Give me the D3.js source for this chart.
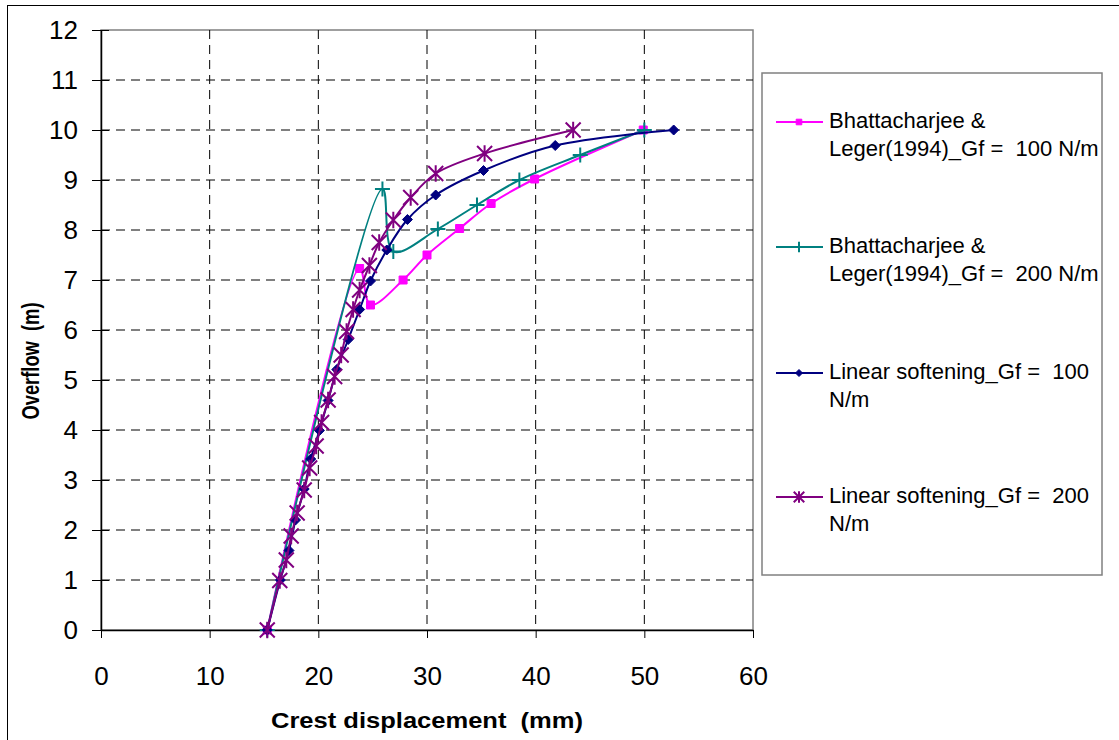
<!DOCTYPE html>
<html>
<head>
<meta charset="utf-8">
<script src="https://cdn.jsdelivr.net/npm/d3@7"></script>
<style>
  body { margin: 0; background: #fff; }
  svg { display: block; font-family: "Liberation Sans", Arial, sans-serif; }
  text { white-space: pre; }
</style>
</head>
<body>
<svg id="chart" width="1119" height="740"></svg>
<script>
// crest displacement (mm) / overflow (m)
const bhat100X = [15.3, 23.8, 24.8, 27.8, 30.0, 33.0, 35.9, 39.9, 49.9];
const bhat100Y = [0, 7.23, 6.5, 7.0, 7.5, 8.03, 8.53, 9.02, 10.0];

const bhat200X = [15.3, 25.9, 26.9, 31.0, 34.6, 38.5, 44.1, 50.0];
const bhat200Y = [0, 8.82, 7.57, 8.02, 8.5, 9.0, 9.5, 10.0];

const lin100X = [15.3, 16.5, 17.3, 17.9, 18.7, 19.3, 20.1, 20.9, 21.7, 22.75, 23.8, 24.8, 26.3, 28.2, 30.8, 35.2, 41.8, 52.7];
const lin100Y = [0, 1.0, 1.59, 2.2, 2.82, 3.42, 3.99, 4.59, 5.21, 5.81, 6.41, 6.98, 7.6, 8.21, 8.7, 9.19, 9.69, 10.0];

const lin200X = [15.3, 16.45, 17.05, 17.5, 18.05, 18.7, 19.2, 19.8, 20.3, 20.9, 21.5, 22.1, 22.6, 23.2, 23.8, 24.7, 25.6, 26.9, 28.5, 30.8, 35.3, 43.45];
const lin200Y = [0, 0.99, 1.4, 1.88, 2.34, 2.8, 3.24, 3.68, 4.15, 4.6, 5.07, 5.5, 5.97, 6.41, 6.8, 7.29, 7.75, 8.2, 8.65, 9.13, 9.53, 10.0];

const seriesNames = [
    ["Bhattacharjee &", "Leger(1994)_Gf =  100 N/m"],
    ["Bhattacharjee &", "Leger(1994)_Gf =  200 N/m"],
    ["Linear softening_Gf =  100", "N/m"],
    ["Linear softening_Gf =  200", "N/m"]
];
const seriesColors = ["#ff00ff", "#008080", "#000080", "#800080"];
const seriesMarkers = ["square", "plus", "diamond", "star"];

const xTicks = [0, 10, 20, 30, 40, 50, 60];
const yTicks = [0, 1, 2, 3, 4, 5, 6, 7, 8, 9, 10, 11, 12];

const xVals = [bhat100X, bhat200X, lin100X, lin200X];
const yVals = [bhat100Y, bhat200Y, lin100Y, lin200Y];

const series = seriesNames.map((name, i) => ({
    name: name,
    color: seriesColors[i],
    marker: seriesMarkers[i],
    points: xVals[i].map((x, j) => ({ x: x, y: yVals[i][j] }))
}));

const svg = d3.select("#chart");

const plotLeft = 101, plotRight = 753, plotTop = 30, plotBottom = 630;
const xScale = d3.scaleLinear().domain([0, 60]).range([plotLeft, plotRight]);
const yScale = d3.scaleLinear().domain([0, 12]).range([plotBottom, plotTop]);

// chart frame, runs off the page right and bottom
svg.append("rect")
    .attr("x", 7.5).attr("y", 5.5)
    .attr("width", 1200).attr("height", 800)
    .attr("fill", "none")
    .attr("stroke", "#000")
    .attr("stroke-width", 1);

// plot area border
svg.append("rect")
    .attr("x", plotLeft).attr("y", plotTop)
    .attr("width", plotRight - plotLeft).attr("height", plotBottom - plotTop)
    .attr("fill", "none")
    .attr("stroke", "#808080")
    .attr("stroke-width", 1.5);

// dashed gridlines
svg.append("g")
    .selectAll("line")
    .data(xTicks.filter(d => d > 0 && d < 60))
    .join("line")
        .attr("x1", d => xScale(d)).attr("x2", d => xScale(d))
        .attr("y1", plotTop).attr("y2", plotBottom)
        .attr("stroke", "#000")
        .attr("stroke-dasharray", "9,6");

svg.append("g")
    .selectAll("line")
    .data(yTicks.filter(d => d > 0 && d < 12))
    .join("line")
        .attr("x1", plotLeft).attr("x2", plotRight)
        .attr("y1", d => yScale(d)).attr("y2", d => yScale(d))
        .attr("stroke", "#000")
        .attr("stroke-dasharray", "9,6");

// y axis: ticks cross the axis line
const yAxis = svg.append("g")
    .attr("transform", `translate(${plotLeft},0)`)
    .call(d3.axisLeft(yScale).tickValues(yTicks).tickSizeInner(9).tickSizeOuter(0).tickPadding(14));
yAxis.selectAll(".tick line").attr("x1", -9).attr("x2", 8).attr("stroke", "#000");
yAxis.select(".domain").attr("stroke", "#000").attr("stroke-width", 1.5);
yAxis.selectAll("text")
    .attr("font-size", 26)
    .attr("font-family", "Liberation Sans, Arial, sans-serif")
    .attr("fill", "#000");

const xAxis = svg.append("g")
    .attr("transform", `translate(0,${plotBottom})`)
    .call(d3.axisBottom(xScale).tickValues(xTicks).tickSizeInner(8).tickSizeOuter(0).tickPadding(29));
xAxis.select(".domain").attr("stroke", "#000").attr("stroke-width", 1.5);
xAxis.selectAll("text")
    .attr("font-size", 26)
    .attr("font-family", "Liberation Sans, Arial, sans-serif")
    .attr("fill", "#000");

// axis titles
svg.append("text")
    .attr("x", 427).attr("y", 728)
    .attr("text-anchor", "middle")
    .attr("font-size", 22)
    .attr("font-weight", "bold")
    .attr("textLength", 312)
    .attr("lengthAdjust", "spacingAndGlyphs")
    .text("Crest displacement  (mm)");

svg.append("text")
    .attr("transform", "translate(39,361) rotate(-90)")
    .attr("text-anchor", "middle")
    .attr("font-size", 23)
    .attr("font-weight", "bold")
    .attr("textLength", 117)
    .attr("lengthAdjust", "spacingAndGlyphs")
    .text("Overflow  (m)");

// marker drawing
const markerPath = (type, s) => {
    const h = s / 2;
    if (type === "square") return `M${-h},${-h}H${h}V${h}H${-h}Z`;
    if (type === "diamond") return `M0,${-h}L${h},0L0,${h}L${-h},0Z`;
    if (type === "plus") return `M${-h},0H${h}M0,${-h}V${h}`;
    return `M${-h},${-h}L${h},${h}M${-h},${h}L${h},${-h}M0,${-h * 1.1}V${h * 1.1}`;
};
const markerSize = { square: 8, diamond: 10, plus: 15, star: 15 };
const drawMarker = (sel, d, size) => {
    const filled = d.marker === "square" || d.marker === "diamond";
    sel.attr("d", markerPath(d.marker, size))
        .attr("fill", filled ? d.color : "none")
        .attr("stroke", d.color)
        .attr("stroke-width", filled ? 1 : 2);
};

const line = d3.line()
    .x(d => xScale(d.x))
    .y(d => yScale(d.y))
    .curve(d3.curveCatmullRom.alpha(0.5));

const plot = svg.append("g");
series.forEach(s => {
    plot.append("path")
        .datum(s.points)
        .attr("d", line)
        .attr("fill", "none")
        .attr("stroke", s.color)
        .attr("stroke-width", 2);
    plot.append("g")
        .selectAll("path")
        .data(s.points)
        .join("path")
            .attr("transform", p => `translate(${xScale(p.x)},${yScale(p.y)})`)
            .each(function() { drawMarker(d3.select(this), s, markerSize[s.marker]); });
});

// legend
const legend = svg.append("g");
legend.append("rect")
    .attr("x", 762).attr("y", 73)
    .attr("width", 340).attr("height", 502)
    .attr("fill", "#fff")
    .attr("stroke", "#808080")
    .attr("stroke-width", 1.5);

const legendY = [122, 247, 373, 497];
series.forEach((s, i) => {
    const g = legend.append("g").attr("transform", `translate(0,${legendY[i]})`);
    g.append("line")
        .attr("x1", 776).attr("x2", 823)
        .attr("stroke", s.color)
        .attr("stroke-width", 2);
    g.append("path")
        .attr("transform", "translate(799,0)")
        .each(function() { drawMarker(d3.select(this), s, markerSize[s.marker] * 0.7); });
    g.append("text")
        .attr("x", 829).attr("y", 6)
        .attr("font-size", 22)
        .selectAll("tspan")
        .data(s.name)
        .join("tspan")
            .attr("x", 829)
            .attr("dy", (d, j) => j === 0 ? 0 : 28)
            .text(d => d);
});
</script>
</body>
</html>
